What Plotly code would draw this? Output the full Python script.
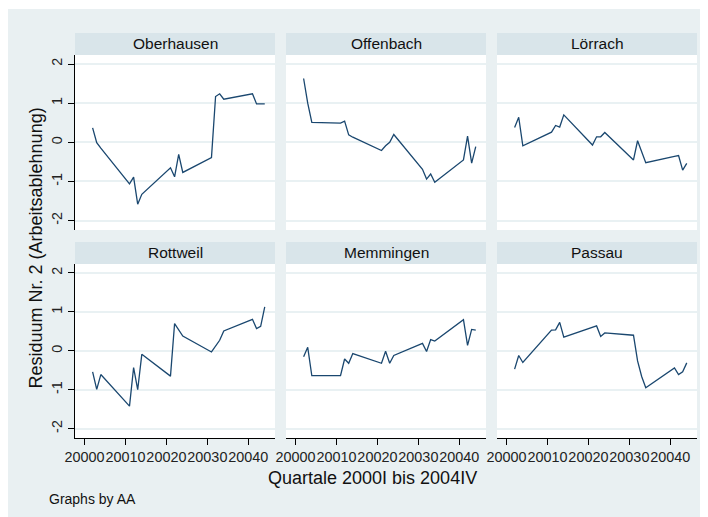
import plotly.graph_objects as go

W, H = 708, 517
# the page body adds an 8px offset; positions below are given in window pixels
OFF_X, OFF_Y = 8, 8

quarters = [20002, 20003, 20004, 20011, 20012, 20013, 20014, 20021, 20022, 20023, 20024,
            20031, 20032, 20033, 20034, 20041, 20042, 20043, 20044]

panel_names = ["Oberhausen", "Offenbach", "Lörrach", "Rottweil", "Memmingen", "Passau"]

oberhausen = [0.37, -0.01, -0.15, -1.06, -0.89, -1.58, -1.33, -0.65, -0.88, -0.31, -0.77,
              -0.39, 1.17, 1.24, 1.10, 1.24, 0.98, 0.98, 0.98]
offenbach = [1.63, 1.00, 0.51, 0.49, 0.54, 0.19, 0.13, -0.21, -0.09, 0.00, 0.20,
             -0.69, -0.94, -0.81, -1.02, -0.45, 0.16, -0.53, -0.11]
loerrach = [0.38, 0.64, -0.09, 0.26, 0.43, 0.39, 0.70, -0.07, 0.14, 0.14, 0.25,
            -0.45, 0.04, -0.24, -0.52, -0.36, -0.34, -0.71, -0.54]
rottweil = [-0.54, -0.99, -0.61, -1.42, -0.43, -1.00, -0.09, -0.65, 0.70, 0.54, 0.38,
            -0.03, 0.12, 0.27, 0.51, 0.81, 0.57, 0.63, 1.13]
memmingen = [-0.15, 0.09, -0.64, -0.64, -0.21, -0.32, -0.07, -0.32, -0.01, -0.32, -0.12,
             0.19, -0.02, 0.29, 0.25, 0.80, 0.14, 0.55, 0.53]
passau = [-0.47, -0.12, -0.30, 0.53, 0.54, 0.73, 0.35, 0.61, 0.64, 0.37, 0.46,
          0.40, -0.26, -0.66, -0.95, -0.44, -0.61, -0.54, -0.31]

series = [oberhausen, offenbach, loerrach, rottweil, memmingen, passau]

x_tickvals = [20000, 20010, 20020, 20030, 20040]
x_ticktext = ["20000", "20010", "20020", "20030", "20040"]
y_tickvals = [2, 1, 0, -1, -2]
y_ticktext = ["2", "1", "0", "-1", "-2"]

y_title = "Residuum Nr. 2 (Arbeitsablehnung)"
x_title = "Quartale 2000I bis 2004IV"
note = "Graphs by AA"

BG = "#e9f0f2"
STRIP = "#d9e5ea"
GRID = "#e9f1f3"
LINE = "#1a476f"
FONT = "Liberation Sans, Arial, sans-serif"


def px(x):
    return (x - OFF_X) / W


def py(y):
    return 1 - (y - OFF_Y) / H


cols = [(75, 275), (286, 486), (497, 697)]
rows = [(55, 230), (264, 438)]
strip_h = 22

fig = go.Figure()
layout = {}
shapes = []
annotations = []

for i, (name, vals) in enumerate(zip(panel_names, series)):
    r, c = divmod(i, 3)
    k = i + 1
    xa = "x" if k == 1 else f"x{k}"
    ya = "y" if k == 1 else f"y{k}"
    fig.add_trace(go.Scatter(x=quarters, y=vals, mode="lines", xaxis=xa, yaxis=ya,
                             line=dict(color=LINE, width=1.3), showlegend=False,
                             hoverinfo="skip"))
    x0, x1 = cols[c]
    y0, y1 = rows[r]
    bottom = r == 1
    left = c == 0
    layout["xaxis" if k == 1 else f"xaxis{k}"] = dict(
        domain=[px(x0), px(x1)], anchor=ya, range=[19997.7, 20046.5],
        automargin=False,
        showgrid=False, zeroline=False,
        showline=bottom, linecolor="#000", linewidth=1,
        ticks="outside" if bottom else "", ticklen=6, tickcolor="#000",
        tickmode="array", tickvals=x_tickvals, ticktext=x_ticktext,
        showticklabels=bottom, tickangle=0,
        tickfont=dict(size=14.4, color="#222", family=FONT),
    )
    layout["yaxis" if k == 1 else f"yaxis{k}"] = dict(
        domain=[py(y1), py(y0)], anchor=xa, range=[-2.24, 2.23],
        automargin=False,
        showgrid=True, gridcolor=GRID, gridwidth=2, zeroline=False,
        showline=left, linecolor="#000", linewidth=1,
        ticks="outside" if left else "", ticklen=6, tickcolor="#000",
        tickmode="array", tickvals=y_tickvals, ticktext=y_ticktext,
        showticklabels=left, tickangle=-90,
        tickfont=dict(size=14.4, color="#222", family=FONT),
    )
    # header strip
    shapes.append(dict(type="rect", xref="paper", yref="paper",
                       x0=px(x0), x1=px(x1), y0=py(y0), y1=py(y0 - strip_h),
                       fillcolor=STRIP, line=dict(width=0), layer="below"))
    annotations.append(dict(text=name, xref="paper", yref="paper",
                            x=px((x0 + x1) / 2), y=py(y0 - strip_h / 2 - 0.5),
                            xanchor="center", yanchor="middle", showarrow=False,
                            font=dict(size=15.5, color="#111", family=FONT)))

# thin white strip at the very top
shapes.append(dict(type="rect", xref="paper", yref="paper", x0=0, x1=1, y0=py(9), y1=1,
                   fillcolor="white", line=dict(width=0), layer="below"))

annotations.append(dict(text=y_title, xref="paper", yref="paper", x=px(35), y=py(248.5),
                        xanchor="center", yanchor="middle", textangle=-90, showarrow=False,
                        font=dict(size=18, color="#111", family=FONT)))
annotations.append(dict(text=x_title, xref="paper", yref="paper", x=px(372.7), y=py(478.3),
                        xanchor="center", yanchor="middle", showarrow=False,
                        font=dict(size=18, color="#111", family=FONT)))
annotations.append(dict(text=note, xref="paper", yref="paper", x=px(46.5), y=py(499),
                        xanchor="left", yanchor="middle", showarrow=False,
                        font=dict(size=14, color="#111", family=FONT)))

fig.update_layout(
    width=W, height=H, margin=dict(l=0, r=0, t=0, b=0, autoexpand=False),
    paper_bgcolor=BG, plot_bgcolor="white",
    shapes=shapes, annotations=annotations,
    font=dict(family=FONT),
    **layout,
)

fig.write_html("out.html")
